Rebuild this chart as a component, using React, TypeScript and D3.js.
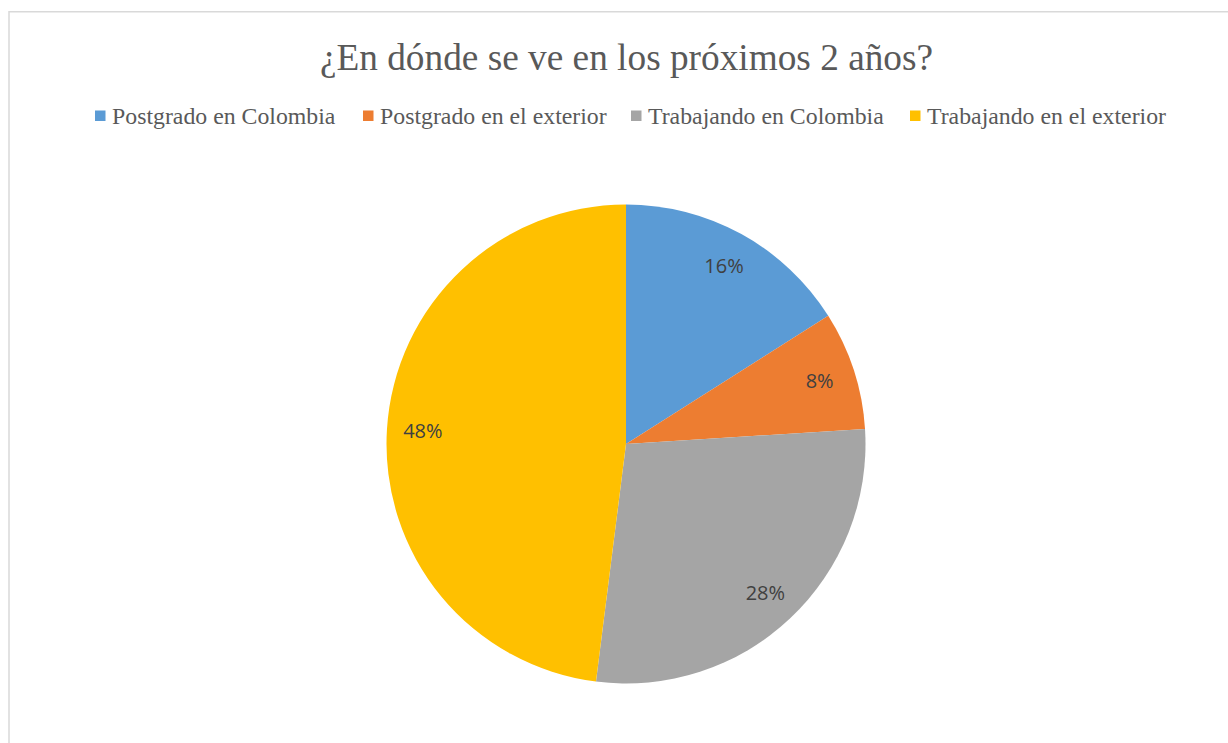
import React from "react";
import * as d3 from "d3";

const categories = [
  "Postgrado en Colombia",
  "Postgrado en el exterior",
  "Trabajando en Colombia",
  "Trabajando en el exterior",
];
const values = [16, 8, 28, 48];
const colors = ["#5B9BD5", "#ED7D31", "#A5A5A5", "#FFC000"];
const title = "¿En dónde se ve en los próximos 2 años?";

const W = 1228;
const H = 743;
const cx = 626;
const cy = 444;
const R = 239.5;
const legendSquareX = [95, 363, 631, 910];

export default function App() {
  const pie = d3.pie<number>().sort(null).value((d) => d)(values);
  const arc = d3.arc<d3.PieArcDatum<number>>().innerRadius(0).outerRadius(R);
  const labelArc = d3
    .arc<d3.PieArcDatum<number>>()
    .innerRadius(R * 0.85)
    .outerRadius(R * 0.85);
  const total = d3.sum(values);

  return (
    <svg
      width={W}
      height={H}
      style={{ position: "absolute", left: 0, top: 0, background: "#fff" }}
    >
      <rect x={0} y={0} width={W} height={H} fill="#fff" />
      <rect
        x={9}
        y={11.75}
        width={1400}
        height={1000}
        fill="#fff"
        stroke="#d9d9d9"
        strokeWidth={1.5}
      />
      <text
        x={626.5}
        y={70}
        textAnchor="middle"
        fontFamily="'Liberation Serif', 'Times New Roman', serif"
        fontSize={37.3}
        fill="#595959"
      >
        {title}
      </text>
      {categories.map((c, i) => (
        <g key={c}>
          <rect x={legendSquareX[i]} y={110.5} width={10.5} height={10.5} fill={colors[i]} />
          <text
            x={legendSquareX[i] + 17}
            y={124}
            fontFamily="'Liberation Serif', 'Times New Roman', serif"
            fontSize={23.8}
            fill="#595959"
          >
            {c}
          </text>
        </g>
      ))}
      <g transform={`translate(${cx},${cy})`}>
        {pie.map((d, i) => (
          <path key={i} d={arc(d) || ""} fill={colors[i]} />
        ))}
        {pie.map((d, i) => {
          const [x, y] = labelArc.centroid(d);
          return (
            <text
              key={"l" + i}
              x={x}
              y={y}
              dy="0.36em"
              textAnchor="middle"
              fontFamily="'Open Sans', sans-serif"
              fontSize={20}
              fill="#404040"
            >
              {`${Math.round((d.value / total) * 100)}%`}
            </text>
          );
        })}
      </g>
    </svg>
  );
}
